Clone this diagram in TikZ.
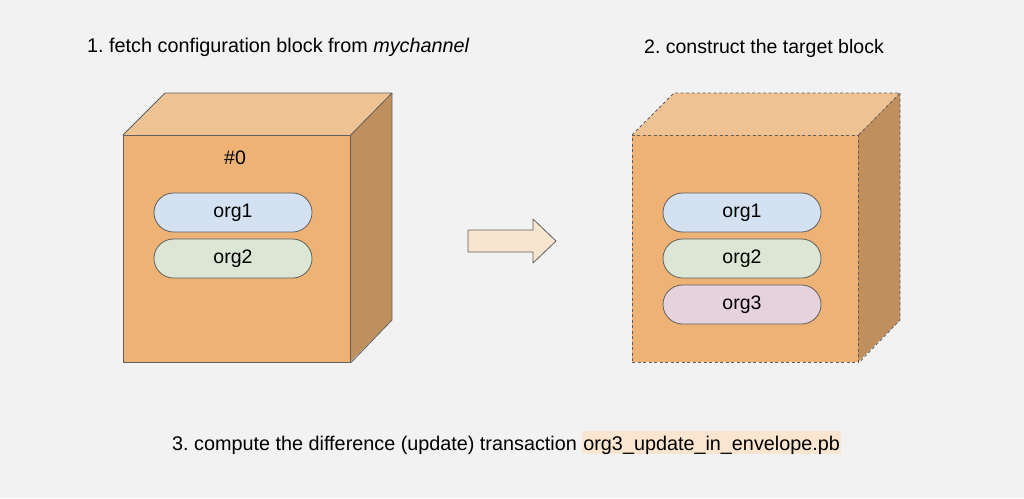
\documentclass[tikz,border=0pt]{standalone}
\usepackage{fontspec}
\setmainfont{Liberation Sans}
\frenchspacing
\definecolor{bg}{HTML}{F2F2F2}
\definecolor{front}{HTML}{EDB274}
\definecolor{topf}{HTML}{EFC293}
\definecolor{sidef}{HTML}{BF8F5E}
\definecolor{edge}{HTML}{5F5F5F}
\definecolor{blue1}{HTML}{D4E1F1}
\definecolor{green1}{HTML}{DCE6D4}
\definecolor{pink1}{HTML}{E6D2DC}
\definecolor{arrowf}{HTML}{F8E5D0}
\definecolor{hl}{HTML}{FAE5D0}
\newcommand\hlbox[1]{{\setlength\fboxsep{0pt}\colorbox{hl}{\rule[-4pt]{0pt}{23pt}\hspace{1pt}#1\hspace{1pt}}}}
\begin{document}
\begin{tikzpicture}[x=1pt,y=-1pt,
  face/.style={draw=edge,line width=0.8pt,line join=round},
  dface/.style={face,dash pattern=on 3pt off 2.5pt},
  txt/.style={font=\fontsize{19.5}{23}\selectfont},
  wtxt/.style={font=\fontsize{19.8}{23}\selectfont},
  pill/.style={txt,draw=edge,line width=0.8pt,rounded corners=19.5pt,minimum width=158pt,minimum height=39pt,inner sep=0pt},
  title/.style={txt,inner sep=0pt,anchor=base}]
\fill[bg] (0,0) rectangle (1024,498);
\useasboundingbox (0,0) rectangle (1024,498);
% titles
\node[title,wtxt,anchor=base west] (t1) at (87,52.5) {1. fetch configuration block from \textit{mychannel}};
\node[title] (t2) at (764,53) {2. construct the target block};
% left cube
\fill[topf] (123,135) -- (165,93) -- (392,93) -- (350,135) -- cycle;
\fill[sidef] (350,135) -- (392,93) -- (392,320) -- (350,362) -- cycle;
\node[face,fill=front,minimum width=227pt,minimum height=227pt,inner sep=0pt,anchor=north west] (c1) at (123,135) {};
\draw[face] (c1.north west) -- (165,93) -- (392,93) -- (c1.north east);
\draw[face] (392,93) -- (392,320) -- (c1.south east);
\node[txt] (h0) at (235,158) {\#0};
\node[pill,fill=blue1] (a1) at (233,212.5) {org1};
\node[pill,fill=green1] (a2) at (233,258.5) {org2};
% arrow
\draw[face,fill=arrowf] (468,230) -- (533,230) -- (533,219) -- (556,241) -- (533,263) -- (533,252) -- (468,252) -- cycle;
\coordinate (arr) at (512,241);
% right cube
\fill[topf] (632,135) -- (674,93) -- (900,93) -- (858,135) -- cycle;
\fill[sidef] (858,135) -- (900,93) -- (900,320) -- (858,362) -- cycle;
\node[dface,fill=front,minimum width=226pt,minimum height=227pt,inner sep=0pt,anchor=north west] (c2) at (632,135) {};
\draw[dface] (c2.north west) -- (674,93) -- (900,93) -- (c2.north east);
\draw[dface] (900,93) -- (900,320) -- (c2.south east);
\node[pill,fill=blue1] (b1) at (742,212.5) {org1};
\node[pill,fill=green1] (b2) at (742,258.5) {org2};
\node[pill,fill=pink1] (b3) at (742,304.5) {org3};
% bottom text
\node[title,wtxt,anchor=base west] (t3) at (172,450) {3. compute the difference (update) transaction \hlbox{org3\_update\_in\_envelope.pb}};
\end{tikzpicture}
\end{document}
